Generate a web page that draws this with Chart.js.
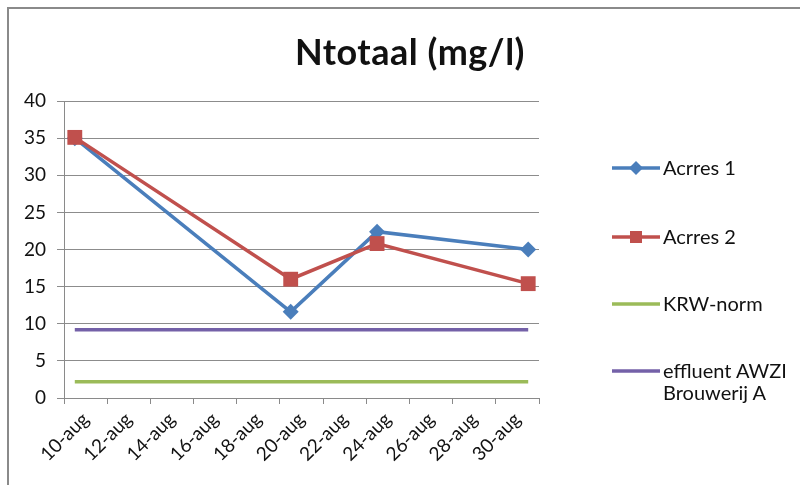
<!DOCTYPE html>
<html lang="nl">
<head>
<meta charset="UTF-8">
<title>Ntotaal (mg/l)</title>
<script src="https://cdn.jsdelivr.net/npm/chart.js"></script>
<style>
  body { margin: 0; background: #fff; }
  #wrap { position: relative; width: 800px; height: 485px; overflow: hidden; font-family: Lato, "Open Sans", sans-serif; color: #111; }
  #frame { position: absolute; left: 7px; top: 7px; width: 820px; height: 500px; border-left: 2px solid #8a8a8a; border-top: 2px solid #8a8a8a; }
  #chart { position: absolute; left: 0; top: 0; }
  #title { position: absolute; left: 0; width: 820px; top: 29px; text-align: center; font-size: 36px; font-weight: bold; letter-spacing: 0.5px; }
  .item { position: absolute; left: 612px; font-size: 20px; line-height: 22px; }
  .item svg { position: absolute; left: 0; top: 0; }
  .item span { position: absolute; left: 51px; top: -12px; white-space: nowrap; }
</style>
</head>
<body>
<div id="wrap">
  <div id="frame"></div>
  <canvas id="chart" width="800" height="485"></canvas>
  <div id="title">Ntotaal (mg/l)</div>
  <div id="legend"></div>
</div>
<script>
  // meetdagen (augustus)
  const days = [10, 20, 24, 31];
  const acrres1 = [35.0, 11.6, 22.4, 20.0];
  const acrres2 = [35.1, 16.0, 20.8, 15.4];

  // normlijnen over de hele periode
  const normDays = [10, 31];
  const krwNorm = [2.2, 2.2];
  const effluent = [9.2, 9.2];

  // as-labels
  const labelDays = [10, 12, 14, 16, 18, 20, 22, 24, 26, 28, 30];
  const yMax = 40;
  const yStep = 5;

  const seriesNames = ['Acrres 1', 'Acrres 2', 'KRW-norm', 'effluent AWZI\nBrouwerij A'];
  const colors = ['#4a7ebb', '#c0504d', '#9bbb59', '#7461a8'];

  const toPoints = (xs, ys) => xs.map((x, i) => ({ x: x, y: ys[i] }));

  const data = {
    datasets: [
      { label: seriesNames[0], data: toPoints(days, acrres1), borderColor: colors[0], backgroundColor: colors[0],
        borderWidth: 3.5, pointStyle: 'rectRot', pointRadius: 8, pointBorderWidth: 0, order: 2 },
      { label: seriesNames[1], data: toPoints(days, acrres2), borderColor: colors[1], backgroundColor: colors[1],
        borderWidth: 3.5, pointStyle: 'rect', pointRadius: 10.5, pointBorderWidth: 0, order: 1 },
      { label: seriesNames[2], data: toPoints(normDays, krwNorm), borderColor: colors[2], backgroundColor: colors[2],
        borderWidth: 3.5, pointRadius: 0, order: 3 },
      { label: seriesNames[3], data: toPoints(normDays, effluent), borderColor: colors[3], backgroundColor: colors[3],
        borderWidth: 3.5, pointRadius: 0, order: 3 }
    ]
  };

  const config = {
    type: 'line',
    data: data,
    options: {
      responsive: false,
      animation: false,
      layout: { padding: { left: 0, top: 101, right: 261, bottom: 0 } },
      plugins: { legend: { display: false }, title: { display: false }, tooltip: { enabled: false } },
      elements: { line: { tension: 0 } },
      scales: {
        x: {
          type: 'linear',
          min: 9.5,
          max: 31.5,
          afterBuildTicks: function (scale) {
            const t = [];
            for (let v = 9.5; v <= 31.5; v += 1) t.push({ value: v });
            scale.ticks = t;
          },
          afterFit: function (scale) { scale.height = 87; },
          ticks: {
            autoSkip: false,
            minRotation: 45,
            maxRotation: 45,
            padding: 4,
            color: '#111',
            font: { family: 'Lato', size: 19 },
            callback: function (value) {
              const d = value - 0.5;
              return labelDays.includes(d) ? d + '-aug' : '';
            }
          },
          grid: {
            drawOnChartArea: false,
            tickLength: 6,
            color: function (ctx) {
              return ctx.tick && (ctx.tick.value - 9.5) % 2 === 0 ? '#8a8a8a' : 'rgba(0,0,0,0)';
            }
          },
          border: { color: '#8a8a8a', width: 1 }
        },
        y: {
          min: 0,
          max: yMax,
          afterFit: function (scale) { scale.width = 64; },
          ticks: { stepSize: yStep, padding: 11, color: '#111', font: { family: 'Lato', size: 19 } },
          grid: { color: '#8c8c8c', tickLength: 7 },
          border: { color: '#8a8a8a', width: 1 }
        }
      }
    }
  };

  window.onload = function () {
    const ctx = document.getElementById('chart').getContext('2d');
    window.ntotaalChart = new Chart(ctx, config);

    // legenda rechts naast de grafiek
    const legendY = [168, 237, 304, 371];
    const markers = ['<path d="M24 -7 L31 0 L24 7 L17 0 Z" fill="' + colors[0] + '"/>',
                     '<rect x="18" y="-6" width="12" height="12" fill="' + colors[1] + '"/>', '', ''];
    const legend = document.getElementById('legend');
    seriesNames.forEach((name, i) => {
      const item = document.createElement('div');
      item.className = 'item';
      item.style.top = legendY[i] + 'px';
      item.innerHTML = '<svg width="50" height="20" viewBox="0 -10 50 20" style="top:-10px">' +
        '<line x1="0" y1="0" x2="48" y2="0" stroke="' + colors[i] + '" stroke-width="3.5"/>' + markers[i] + '</svg>' +
        '<span>' + name.replace('\n', '<br>') + '</span>';
      legend.appendChild(item);
    });
  };
</script>
</body>
</html>
